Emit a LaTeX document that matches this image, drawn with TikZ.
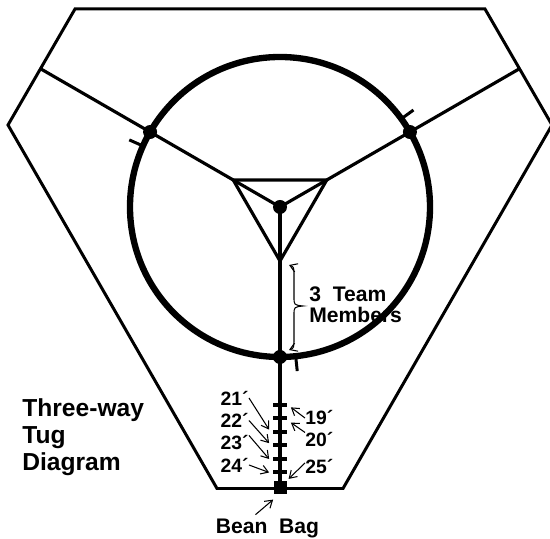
\documentclass[tikz,border=0pt]{standalone}
\usepackage{fontspec}
\setmainfont{Liberation Sans}
\usetikzlibrary{arrows.meta,positioning,calc}

\begin{document}
\begin{tikzpicture}[>={Straight Barb[length=1.4mm,width=1.8mm]},
  field/.style={line width=1.7pt},
  ring/.style={line width=3.6pt},
  rope/.style={line width=1.8pt},
  knot/.style={circle, fill=black, inner sep=0pt, minimum size=0.28cm},
  foot/.style={fill=black, inner sep=0pt, minimum width=0.28cm, minimum height=0.08cm},
  pointer/.style={->, line width=0.6pt},
  feet/.style={font=\fontsize{11}{11}\selectfont\bfseries, inner sep=0pt}]

\useasboundingbox (-5.6,-6.64) rectangle (5.4,4.14);

% playing field
\coordinate (h1) at (-4.1,3.96);
\coordinate (h2) at (4.1,3.96);
\coordinate (h3) at (5.44,1.64);
\coordinate (h4) at (1.26,-5.63);
\coordinate (h5) at (-1.26,-5.63);
\coordinate (h6) at (-5.44,1.64);
\draw[field] (h1) -- (h2) -- (h3) -- (h4) -- (h5) -- (h6) -- cycle;

% circle
\draw[ring] (0,0) circle (3);
\foreach \a in {156,36,276}
  \draw[field] (\a:2.98) -- (\a:3.3);

% ropes
\coordinate (c) at (0,0);
\coordinate (e1) at (150:5.53);
\coordinate (e2) at (30:5.53);
\coordinate (e3) at (0,-5.6);
\draw[rope] (c) -- (e1);
\draw[rope] (c) -- (e2);
\draw[rope, line width=2.3pt] (c) -- (e3);

% inner triangle
\coordinate (v1) at (150:1.08);
\coordinate (v2) at (30:1.08);
\coordinate (v3) at (270:1.08);
\draw[rope] (v1) -- (v2) -- (v3) -- cycle;

% knots
\node[knot] (k0) at (c) {};
\node[knot] (k1) at (150:3) {};
\node[knot] (k2) at (30:3) {};
\node[knot] (k3) at (270:3) {};

% team members
\coordinate (bt) at (0.18,-1.16);
\coordinate (bb) at (0.18,-2.86);
\draw[<->, line width=0.6pt] (bt) .. controls (0.28,-1.2) .. (0.28,-1.4) -- (0.28,-1.8)
  .. controls (0.28,-1.96) .. (0.46,-1.98) .. controls (0.28,-2.0) .. (0.28,-2.16)
  -- (0.28,-2.6) .. controls (0.28,-2.82) .. (bb);
\node[anchor=west, align=left, inner sep=0pt, font=\fontsize{12}{12}\selectfont\bfseries]
  (team) at (0.58,-1.96) {3\ \ Team\\Members};

% distance marks
\foreach \n/\y in {19/-3.96, 20/-4.23, 21/-4.50, 22/-4.77, 23/-5.04, 24/-5.31}
  \node[foot] (t\n) at (0,\y) {};
\node[fill=black, inner sep=0pt, minimum size=0.26cm] (bag) at (0,-5.61) {};

% left labels
\node[feet, anchor=east] (l21) at (-0.62,-3.82) {21´};
\node[feet, anchor=east] (l22) at (-0.62,-4.27) {22´};
\node[feet, anchor=east] (l23) at (-0.62,-4.72) {23´};
\node[feet, anchor=east] (l24) at (-0.62,-5.16) {24´};
\draw[pointer] (l21.east) -- ([xshift=-2pt]t21.north west);
\draw[pointer] (l22.east) -- ([xshift=-2pt]t22.north west);
\draw[pointer] (l23.north east) -- ([xshift=-2pt]t23.west);
\draw[pointer] (l24.east) -- ([xshift=-2pt]t24.west);

% right labels
\node[feet, anchor=west] (l19) at (0.5,-4.22) {19´};
\node[feet, anchor=west] (l20) at (0.5,-4.66) {20´};
\node[feet, anchor=west] (l25) at (0.5,-5.2) {25´};
\draw[pointer] (l19.west) -- ([xshift=2pt]t19.south east);
\draw[pointer] (l20.north west) -- ([shift={(2pt,-1pt)}]t20.south east);
\draw[pointer] ([yshift=-2pt]l25.north west) -- ([shift={(1pt,1pt)}]bag.north east);

% bean bag
\node[font=\fontsize{12}{12}\selectfont\bfseries, inner sep=0pt] (lbag) at (-0.25,-6.42) {Bean\ \ Bag};
\draw[pointer] ([shift={(-0.24cm,2pt)}]lbag.north) -- ([yshift=-3pt]bag.south west);

% title
\node[anchor=west, align=left, inner sep=0pt, font=\fontsize{14}{15.3}\selectfont\bfseries]
  (title) at (-5.16,-4.61) {Three-way\\Tug\\Diagram};

\end{tikzpicture}
\end{document}
